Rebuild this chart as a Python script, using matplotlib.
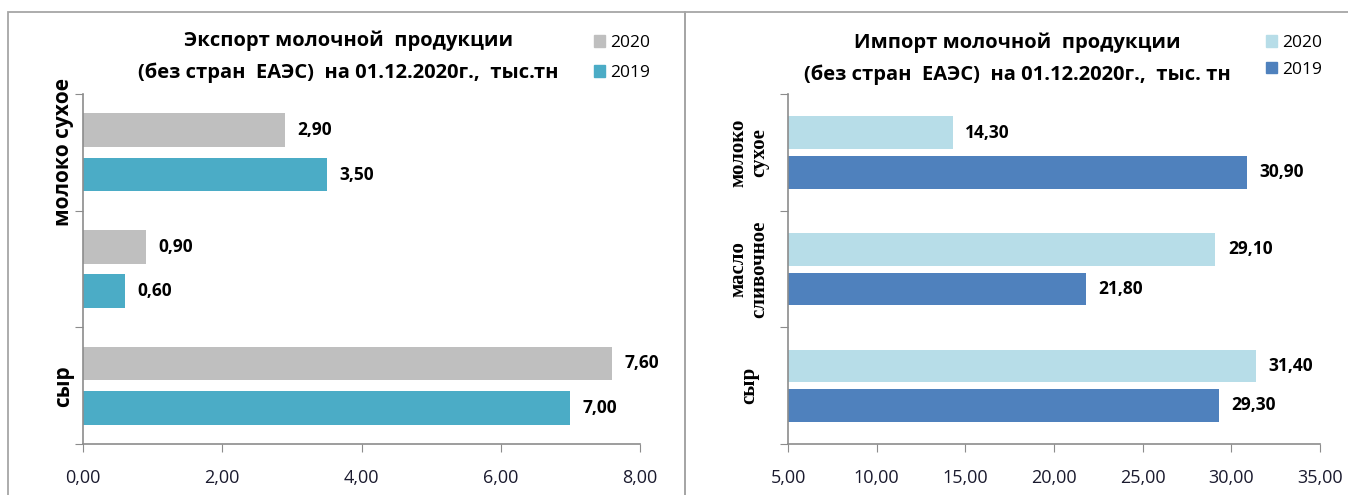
"""Export / import of dairy products (excluding EAEU), two horizontal bar panels."""

import matplotlib

matplotlib.use("Agg")
import matplotlib.pyplot as plt
from matplotlib.patches import Patch, Rectangle

categories = ["молоко сухое", "масло сливочное", "сыр"]
export_labels = ["молоко сухое", "", "сыр"]
import_labels = ["молоко\nсухое", "масло\nсливочное", "сыр"]

export_2020 = [2.90, 0.90, 7.60]
export_2019 = [3.50, 0.60, 7.00]
import_2020 = [14.30, 29.10, 31.40]
import_2019 = [30.90, 21.80, 29.30]

export_xticks = [0, 2, 4, 6, 8]
import_xticks = [5, 10, 15, 20, 25, 30, 35]

TITLE_FONT = ["Open Sans", "DejaVu Sans"]
AXIS_GREY = "#8c8c8c"


def fmt(v):
    return f"{v:.2f}".replace(".", ",")


def draw_panel(ax, v2020, v2019, c2020, c2019, xticks, ylabels, label_font, label_size, label_pad, off, h):
    ys = list(range(len(categories)))
    ax.barh([y - off for y in ys], v2020, height=h, color=c2020, label="2020")
    ax.barh([y + off for y in ys], v2019, height=h, color=c2019, label="2019")
    for y, a, b in zip(ys, v2020, v2019):
        ax.annotate(fmt(a), (a, y - off), xytext=(9, 0), textcoords="offset points",
                    va="center", ha="left", fontsize=12.5, fontweight="bold", family=TITLE_FONT)
        ax.annotate(fmt(b), (b, y + off), xytext=(9, 0), textcoords="offset points",
                    va="center", ha="left", fontsize=12.5, fontweight="bold", family=TITLE_FONT)
    ax.set_xlim(xticks[0], xticks[-1])
    ax.set_ylim(len(categories) - 0.5, -0.5)
    ax.set_xticks(xticks)
    ax.set_xticklabels([fmt(t) for t in xticks], fontsize=13, family=TITLE_FONT, color="#1a1a2e")
    ax.set_yticks([y - 0.5 for y in ys] + [len(ys) - 0.5])
    ax.set_yticklabels([])
    ax.set_yticks(ys, minor=True)
    ax.set_yticklabels(ylabels, minor=True, rotation=90, va="center", ha="center",
                       fontsize=label_size, fontweight="bold", family=label_font, linespacing=1.05)
    ax.tick_params(axis="y", which="minor", length=0, pad=label_pad)
    ax.tick_params(axis="y", which="major", length=6, color=AXIS_GREY)
    ax.tick_params(axis="x", length=6, color=AXIS_GREY, pad=12)
    for side in ("top", "right"):
        ax.spines[side].set_visible(False)
    for side in ("left", "bottom"):
        ax.spines[side].set_color(AXIS_GREY)
        ax.spines[side].set_linewidth(1.2)


fig = plt.figure(figsize=(13.48, 4.95), dpi=100)

# panel frames
fig.patches.append(Rectangle((8 / 1348, -0.1), 677 / 1348, 1.1 - 12 / 495, transform=fig.transFigure,
                             fill=False, edgecolor="#a6a6a6", linewidth=1.3))
fig.patches.append(Rectangle((685 / 1348, -0.1), 700 / 1348, 1.1 - 12 / 495, transform=fig.transFigure,
                             fill=False, edgecolor="#a6a6a6", linewidth=1.3))

ax1 = fig.add_axes([83 / 1348, 1 - 444 / 495, 557 / 1348, 350 / 495])
draw_panel(ax1, export_2020, export_2019, "#bfbfbf", "#4bacc6", export_xticks,
           export_labels, TITLE_FONT, 15, 14, 0.19, 0.29)

ax2 = fig.add_axes([788 / 1348, 1 - 444 / 495, 532 / 1348, 350 / 495])
draw_panel(ax2, import_2020, import_2019, "#b7dde8", "#4f81bd", import_xticks,
           import_labels, ["Liberation Serif", "DejaVu Serif"], 15, 28, 0.17, 0.28)

fig.text(349 / 1348, 1 - 41 / 495, "Экспорт молочной  продукции", ha="center", va="center",
         fontsize=14.5, fontweight="bold", family=TITLE_FONT)
fig.text(348 / 1348, 1 - 73 / 495, "(без стран  ЕАЭС)  на 01.12.2020г.,  тыс.тн", ha="center", va="center",
         fontsize=14.5, fontweight="bold", family=TITLE_FONT)
fig.text(1017 / 1348, 1 - 43 / 495, "Импорт молочной  продукции", ha="center", va="center",
         fontsize=14.5, fontweight="bold", family=TITLE_FONT)
fig.text(1017 / 1348, 1 - 75 / 495, "(без стран  ЕАЭС)  на 01.12.2020г.,  тыс. тн", ha="center", va="center",
         fontsize=14.5, fontweight="bold", family=TITLE_FONT)

for cols, anchor, spacing in ((("#bfbfbf", "#4bacc6"), (594 / 1348, 1 - 35 / 495), 0.8),
                              (("#b7dde8", "#4f81bd"), (1266 / 1348, 1 - 35 / 495), 0.62)):
    handles = [Patch(color=cols[0], label="2020"), Patch(color=cols[1], label="2019")]
    fig.legend(handles=handles, loc="upper left", bbox_to_anchor=anchor, frameon=False,
               handlelength=0.65, handleheight=0.65, handletextpad=0.3, labelspacing=spacing,
               prop={"family": TITLE_FONT, "size": 12.5}, borderaxespad=0, borderpad=0)

fig.savefig("out.png", dpi=100)
